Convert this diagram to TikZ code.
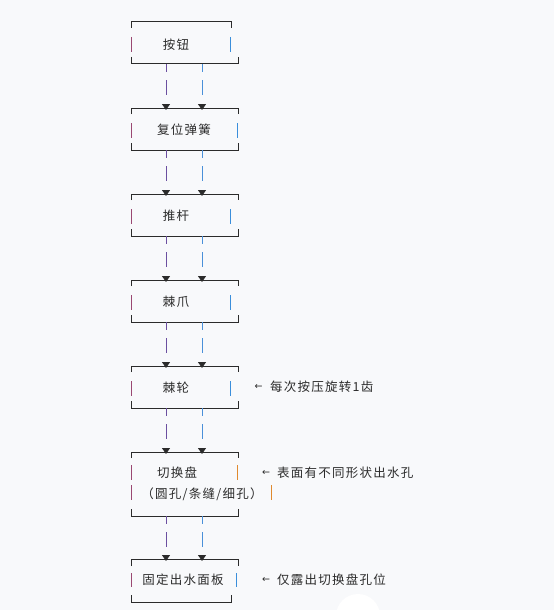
\documentclass[tikz,border=0pt]{standalone}
\usepackage{fontspec}
\setmainfont{Noto Sans CJK SC}[LetterSpace=10]
\newfontfamily\arrowfont{DejaVu Sans}
\usetikzlibrary{arrows.meta}

\definecolor{bg}{HTML}{F8F9FB}
\definecolor{ink}{HTML}{2B2B2B}
\definecolor{leftbar}{HTML}{9A4872}
\definecolor{rightbar}{HTML}{3A8EDB}
\definecolor{orangebar}{HTML}{E08A2E}
\definecolor{linkl}{HTML}{6B4FA0}
\definecolor{linkr}{HTML}{4A90D9}

\tikzset{
  frame/.style={ink, line width=1pt},
  lbar/.style={leftbar, line width=1pt},
  rbar/.style={rightbar, line width=1pt},
  obar/.style={orangebar, line width=1pt},
  part/.style={text=ink, font=\fontsize{12.5}{14}\selectfont, inner sep=0pt},
  remark/.style={part, anchor=west},
  tip/.style={text=ink, font=\arrowfont\fontsize{9.5}{10}\selectfont, inner sep=0pt},
  link/.style={line width=1pt, dash pattern=on 8pt off 8pt on 15pt off 20pt,
    -{Triangle[width=8pt,length=6pt,color=ink]}},
}

\begin{document}
\begin{tikzpicture}[x=1pt,y=-1pt]
  \fill[bg] (0,0) rectangle (554,610);
  \useasboundingbox (0,0) rectangle (554,610);
  \fill[white] (358,616) circle (22);

  % one-line boxes: top, top right end, bottom right end, right bar
  \foreach \t/\tr/\br/\rb in {22/231/238/230, 108/238/238/237, 194/238/238/230, 280/238/238/230, 366/238/238/230}{
    \draw[frame] (131,\t+6) -- (131,\t) -- (\tr,\t) -- (\tr,\t+6);
    \draw[frame] (131,\t+35) -- (131,\t+42) -- (\br,\t+42) -- (\br,\t+35);
    \draw[lbar] (131,\t+15) -- (131,\t+30);
    \draw[rbar] (\rb,\t+15) -- (\rb,\t+30);
  }
  % switching disc, two lines
  \draw[frame] (131,458) -- (131,452) -- (238,452) -- (238,458);
  \draw[frame] (131,509) -- (131,516) -- (238,516) -- (238,509);
  \draw[lbar] (131,465) -- (131,480);
  \draw[lbar] (131,485) -- (131,500);
  \draw[obar] (237,465) -- (237,480);
  \draw[obar] (271,485) -- (271,500);
  % outlet plate
  \draw[frame] (131,566) -- (131,559) -- (238,559) -- (238,566);
  \draw[frame] (131,595) -- (131,602) -- (231,602) -- (231,595);
  \draw[lbar] (131,573) -- (131,587);
  \draw[rbar] (236,573) -- (236,587);

  \node[part] (btn) at (176,44.5) {按钮};
  \node[part] (spring) at (184,129.5) {复位弹簧};
  \node[part] (rod) at (176,215.5) {推杆};
  \node[part] (pawl) at (176,301.5) {棘爪};
  \node[part] (ratchet) at (176,387.5) {棘轮};
  \node[part] (disc) at (177,473) {切换盘};
  \node[part] (holes) at (202,494) {（圆孔/条缝/细孔）};
  \node[part] (plate) at (183,580) {固定出水面板};

  % links between boxes
  \foreach \b/\n in {64/110, 150/196, 236/282, 322/368, 408/454, 516/561}{
    \coordinate (upl) at (166,\b);
    \coordinate (dnl) at (166,\n);
    \coordinate (upr) at (202,\b);
    \coordinate (dnr) at (202,\n);
    \draw[link, linkl] (upl) -- (dnl);
    \draw[link, linkr] (upr) -- (dnr);
  }

  \node[tip] (tip5) at (258.5,387) {←};
  \node[remark] (note5) at (270,387) {每次按压旋转1齿};
  \node[tip] (tip6) at (266,473) {←};
  \node[remark] (note6) at (277,473) {表面有不同形状出水孔};
  \node[tip] (tip7) at (266,580) {←};
  \node[remark] (note7) at (277,580) {仅露出切换盘孔位};
\end{tikzpicture}
\end{document}
